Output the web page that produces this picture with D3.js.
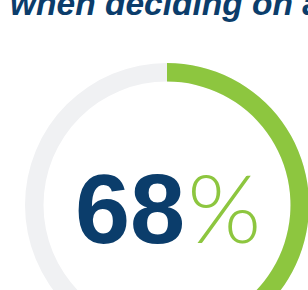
<!DOCTYPE html>
<html><head><meta charset="utf-8">
<script src="https://cdn.jsdelivr.net/npm/d3@7"></script>
<style>html,body{margin:0;padding:0;background:#fff;overflow:hidden}svg{display:block}</style>
</head><body>
<svg id="c" width="308" height="290"></svg>
<script>
const titleText = ["when deciding on a"];
const values = [68];
const labels = ["68"];
const unit = ["%"];
// visible ring share (arc end lies below the visible crop)
const arcShare = [60];

const svg = d3.select("#c");
const cx = 167, cy = 205, rOuter = 142, rInner = 123.5;
const blue = "#0b3d6b", green = "#8dc63f", grey = "#f0f1f3";

svg.append("text").attr("x", 10).attr("y", 14.5)
  .attr("font-family", "Liberation Sans, Arial, sans-serif")
  .attr("font-style", "italic").attr("font-weight", "bold")
  .attr("font-size", 33.5).attr("fill", blue).text(titleText[0]);

const angle = d3.scaleLinear().domain([0, 100]).range([0, 2 * Math.PI]);
const arc = d3.arc().innerRadius(rInner).outerRadius(rOuter);
const g = svg.append("g").attr("transform", `translate(${cx},${cy})`);
g.append("path").attr("d", arc({startAngle: 0, endAngle: 2 * Math.PI})).attr("fill", grey);
g.append("path").attr("d", arc({startAngle: 0, endAngle: angle(arcShare[0])})).attr("fill", green);

const t = svg.append("text").attr("y", 243).attr("x", 75);
t.append("tspan").attr("font-family", "Liberation Sans, Arial, sans-serif")
  .attr("font-weight", "bold").attr("font-size", 99).attr("fill", blue).text(labels[0]);
t.append("tspan").attr("font-family", "Lato, sans-serif").attr("font-weight", 300)
  .attr("font-size", 95).attr("fill", green).attr("dx", 2).text(unit[0]);
</script>
</body></html>
